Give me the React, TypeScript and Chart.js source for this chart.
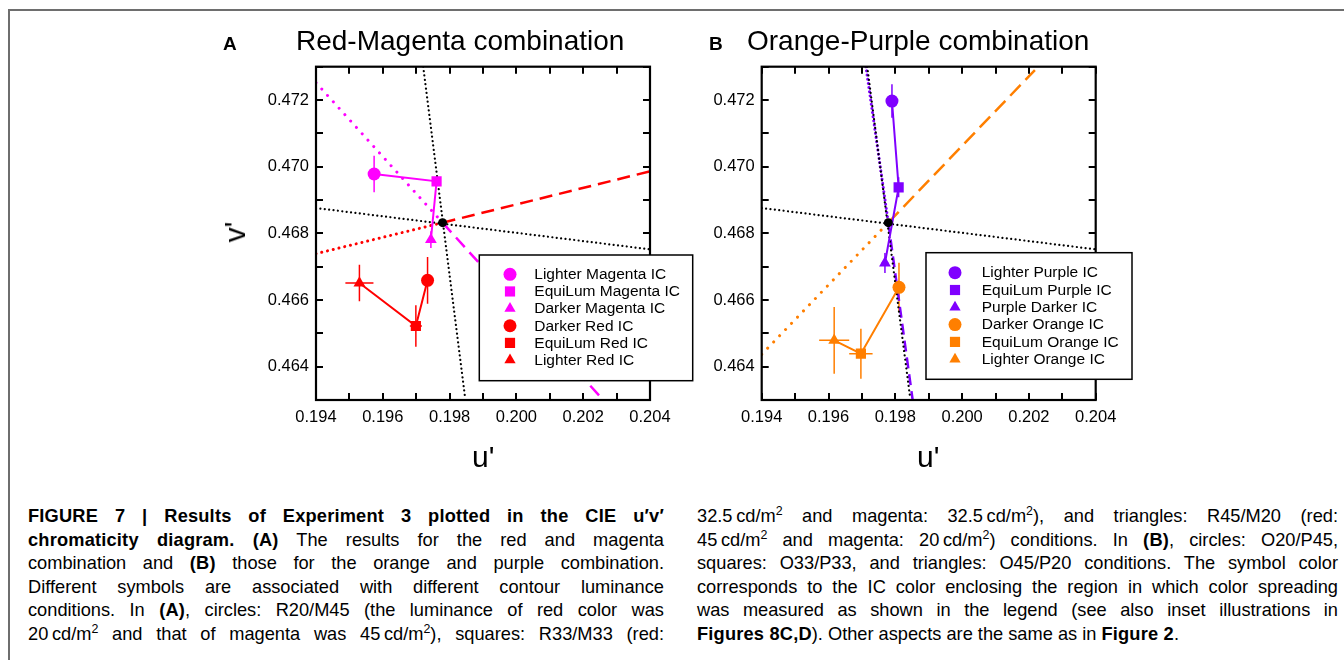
import React, { useEffect, useRef } from "react";
import { Chart, registerables } from "chart.js";
import { drawPoint } from "chart.js/helpers";

Chart.register(...registerables);

// ---------- axes ----------
const U_MIN = 0.194;
const U_MAX = 0.204;
const V_MIN = 0.463;
const V_MAX = 0.473;
const TICK_STEP = 0.001;

const pointStyles = ["circle", "rect", "triangle"];
const pointRadii = [6.5, 7.2, 6.8];

// ---------- white point (both panels) ----------
const whiteU = [0.19779];
const whiteV = [0.46832];

// ---------- panel A ----------
const magentaU = [0.19574, 0.19761, 0.19744];
const magentaV = [0.46978, 0.46956, 0.46781];
const magentaUErr = [0.0001, 0.0001, 0.0001];
const magentaVErr = [0.00055, 0.00015, 0.00025];

const redU = [0.19734, 0.19699, 0.1953];
const redV = [0.46659, 0.46522, 0.46651];
const redUErr = [0.0001, 0.00018, 0.00042];
const redVErr = [0.0007, 0.00062, 0.00055];

const aSteepU = [0.19721, 0.19846];
const aSteepV = [0.473, 0.4631];
const flatU = [0.194, 0.204];
const flatV = [0.46876, 0.46752];
const magentaDotU = [0.194, 0.19779];
const magentaDotV = [0.47252, 0.46832];
const magentaDashU = [0.19779, 0.2026];
const magentaDashV = [0.46832, 0.463];
const redDotU = [0.194, 0.19779];
const redDotV = [0.46739, 0.46832];
const redDashU = [0.19779, 0.204];
const redDashV = [0.46832, 0.46986];

const legendLabelsA = [
  "Lighter Magenta IC",
  "EquiLum Magenta IC",
  "Darker Magenta IC",
  "Darker Red IC",
  "EquiLum Red IC",
  "Lighter Red IC",
];

// ---------- panel B ----------
const purpleU = [0.1979, 0.1981, 0.19769];
const purpleV = [0.47197, 0.46938, 0.46711];
const purpleUErr = [0.0001, 0.0001, 0.0001];
const purpleVErr = [0.0005, 0.0003, 0.0003];

const orangeU = [0.19811, 0.19697, 0.19617];
const orangeV = [0.46638, 0.46439, 0.46479];
const orangeUErr = [0.0001, 0.00035, 0.00045];
const orangeVErr = [0.00074, 0.00075, 0.001];

const bSteepU = [0.19716, 0.19844];
const bSteepV = [0.473, 0.4631];
const purpleDotU = [0.19712, 0.19779];
const purpleDotV = [0.473, 0.46832];
const purpleDashU = [0.19779, 0.19852];
const purpleDashV = [0.46832, 0.463];
const orangeDotU = [0.194, 0.19779];
const orangeDotV = [0.46437, 0.46832];
const orangeDashU = [0.19779, 0.20218];
const orangeDashV = [0.46832, 0.4729];

const legendLabelsB = [
  "Lighter Purple IC",
  "EquiLum Purple IC",
  "Purple Darker IC",
  "Darker Orange IC",
  "EquiLum Orange IC",
  "Lighter Orange IC",
];

const MAGENTA = "#ff00ff";
const RED = "#ff0000";
const PURPLE = "#7f00ff";
const ORANGE = "#ff7f00";
const FONT = "'Liberation Sans', Arial, sans-serif";

const zip = (u: number[], v: number[]) => u.map((x, i) => ({ x, y: v[i] }));

const DOT_BLACK = { color: "#000", width: 2.2, dash: [0.01, 4.4], cap: "round" };

type Panel = {
  series: any[];
  lines: any[];
  legendLabels: string[];
  legendColors: string[];
  legend: { bx: number; by: number; bw: number; bh: number; sx: number; tx: number; ry: number; dy: number };
  canvas: { left: number; width: number };
  padding: { left: number; right: number; top: number; bottom: number };
};

const panelA: Panel = {
  series: [
    { color: MAGENTA, u: magentaU, v: magentaV, eu: magentaUErr, ev: magentaVErr },
    { color: RED, u: redU, v: redV, eu: redUErr, ev: redVErr },
  ],
  lines: [
    { u: aSteepU, v: aSteepV, ...DOT_BLACK },
    { u: flatU, v: flatV, ...DOT_BLACK },
    { u: magentaDotU, v: magentaDotV, color: MAGENTA, width: 3, dash: [0.01, 8.6], cap: "round" },
    { u: magentaDashU, v: magentaDashV, color: MAGENTA, width: 2.5, dash: [13, 7], cap: "butt" },
    { u: redDotU, v: redDotV, color: RED, width: 3, dash: [0.01, 5.9], cap: "round" },
    { u: redDashU, v: redDashV, color: RED, width: 2.5, dash: [13, 7], cap: "butt" },
  ],
  legendLabels: legendLabelsA,
  legendColors: [MAGENTA, MAGENTA, MAGENTA, RED, RED, RED],
  legend: { bx: 163.3, by: 188.3, bw: 213.4, bh: 125.7, sx: 194, tx: 218.3, ry: 207.6, dy: 17.15 },
  canvas: { left: 200, width: 510 },
  padding: { left: 56, right: 60, top: 66.7, bottom: 40 },
};

const panelB: Panel = {
  series: [
    { color: PURPLE, u: purpleU, v: purpleV, eu: purpleUErr, ev: purpleVErr },
    { color: ORANGE, u: orangeU, v: orangeV, eu: orangeUErr, ev: orangeVErr },
  ],
  lines: [
    { u: bSteepU, v: bSteepV, ...DOT_BLACK },
    { u: flatU, v: flatV, ...DOT_BLACK },
    { u: purpleDotU, v: purpleDotV, color: PURPLE, width: 3, dash: [0.01, 4.2], cap: "round" },
    { u: purpleDashU, v: purpleDashV, color: PURPLE, width: 2.5, dash: [11, 6], cap: "butt" },
    { u: orangeDotU, v: orangeDotV, color: ORANGE, width: 3, dash: [0.01, 8.6], cap: "round" },
    { u: orangeDashU, v: orangeDashV, color: ORANGE, width: 2.5, dash: [15, 7], cap: "butt" },
  ],
  legendLabels: legendLabelsB,
  legendColors: [PURPLE, PURPLE, PURPLE, ORANGE, ORANGE, ORANGE],
  legend: { bx: 164.3, by: 186, bw: 206, bh: 126.6, sx: 193.3, tx: 220, ry: 206, dy: 17.3 },
  canvas: { left: 700, width: 450 },
  padding: { left: 1.7, right: 54.3, top: 66.7, bottom: 40 },
};

const CANVAS_H = 480;

function tickLabel(value: number) {
  const k = Math.round(value * 1000);
  return k % 2 === 0 ? (k / 1000).toFixed(3) : "";
}

function makePlugin(panel: Panel) {
  return {
    id: "figureDecor",
    beforeDatasetsDraw(chart: any) {
      const { ctx, chartArea: ca } = chart;
      const xs = chart.scales.x;
      const ys = chart.scales.y;
      ctx.save();
      ctx.beginPath();
      ctx.rect(ca.left, ca.top, ca.right - ca.left, ca.bottom - ca.top);
      ctx.clip();
      chart.data.datasets.forEach((ds: any) => {
        if (!ds.errU) return;
        ctx.strokeStyle = ds.borderColor;
        ctx.lineWidth = 1.5;
        ds.data.forEach((p: any, i: number) => {
          const px = xs.getPixelForValue(p.x);
          const py = ys.getPixelForValue(p.y);
          ctx.beginPath();
          ctx.moveTo(xs.getPixelForValue(p.x - ds.errU[i]), py);
          ctx.lineTo(xs.getPixelForValue(p.x + ds.errU[i]), py);
          ctx.moveTo(px, ys.getPixelForValue(p.y - ds.errV[i]));
          ctx.lineTo(px, ys.getPixelForValue(p.y + ds.errV[i]));
          ctx.stroke();
        });
      });
      ctx.restore();
    },
    afterDraw(chart: any) {
      const { ctx, chartArea: ca } = chart;
      const xs = chart.scales.x;
      const ys = chart.scales.y;
      ctx.save();
      // inward ticks on all four sides
      ctx.strokeStyle = "#000";
      ctx.lineWidth = 2;
      const TL = 7;
      ctx.beginPath();
      xs.ticks.forEach((t: any) => {
        const x = Math.round(xs.getPixelForValue(t.value));
        ctx.moveTo(x, ca.bottom);
        ctx.lineTo(x, ca.bottom - TL);
        ctx.moveTo(x, ca.top);
        ctx.lineTo(x, ca.top + TL);
      });
      ys.ticks.forEach((t: any) => {
        const y = Math.round(ys.getPixelForValue(t.value));
        ctx.moveTo(ca.left, y);
        ctx.lineTo(ca.left + TL, y);
        ctx.moveTo(ca.right, y);
        ctx.lineTo(ca.right - TL, y);
      });
      ctx.stroke();
      // frame
      ctx.lineWidth = 2.2;
      ctx.strokeRect(ca.left, ca.top, ca.right - ca.left, ca.bottom - ca.top);

      // legend
      const L = panel.legend;
      ctx.fillStyle = "#fff";
      ctx.fillRect(ca.left + L.bx, ca.top + L.by, L.bw, L.bh);
      ctx.lineWidth = 1.5;
      ctx.strokeStyle = "#000";
      ctx.strokeRect(ca.left + L.bx, ca.top + L.by, L.bw, L.bh);
      ctx.font = `15.5px ${FONT}`;
      ctx.textBaseline = "middle";
      ctx.textAlign = "left";
      panel.legendLabels.forEach((label, i) => {
        const y = ca.top + L.ry + i * L.dy;
        const style = pointStyles[i % 3];
        ctx.fillStyle = panel.legendColors[i];
        drawPoint(ctx, { pointStyle: style, radius: style === "rect" ? 7.2 : 6.5, rotation: 0, borderWidth: 0 } as any, ca.left + L.sx, y);
        ctx.fillStyle = "#000";
        ctx.fillText(label, ca.left + L.tx, y + 0.5);
      });
      ctx.restore();
    },
  };
}

function buildConfig(panel: Panel): any {
  const datasets: any[] = [];
  datasets.push({
    data: zip(whiteU, whiteV),
    showLine: false,
    pointRadius: 4.5,
    pointBackgroundColor: "#000",
    pointBorderWidth: 0,
  });
  panel.series.forEach((s) => {
    datasets.push({
      data: zip(s.u, s.v),
      showLine: true,
      borderColor: s.color,
      borderWidth: 2,
      tension: 0,
      pointStyle: pointStyles,
      pointRadius: pointRadii,
      pointBackgroundColor: s.color,
      pointBorderColor: s.color,
      pointBorderWidth: 0,
      errU: s.eu,
      errV: s.ev,
    });
  });
  panel.lines.forEach((l) => {
    datasets.push({
      data: zip(l.u, l.v),
      showLine: true,
      borderColor: l.color,
      borderWidth: l.width,
      borderDash: l.dash,
      borderCapStyle: l.cap,
      pointRadius: 0,
      tension: 0,
    });
  });
  const tickFont = { family: FONT, size: 16.5 };
  return {
    type: "scatter",
    data: { datasets },
    options: {
      animation: false,
      responsive: false,
      maintainAspectRatio: false,
      events: [],
      layout: { padding: panel.padding },
      plugins: { legend: { display: false }, tooltip: { enabled: false }, title: { display: false } },
      scales: {
        x: {
          type: "linear",
          min: U_MIN,
          max: U_MAX,
          grid: { display: false, drawTicks: false },
          border: { display: false },
          ticks: {
            stepSize: TICK_STEP,
            autoSkip: false,
            maxRotation: 0,
            padding: 8,
            color: "#000",
            font: tickFont,
            callback: (v: number) => tickLabel(v),
          },
          afterFit: (s: any) => {
            s.height = 40;
          },
        },
        y: {
          type: "linear",
          min: V_MIN,
          max: V_MAX,
          grid: { display: false, drawTicks: false },
          border: { display: false },
          ticks: {
            stepSize: TICK_STEP,
            autoSkip: false,
            padding: 7,
            color: "#000",
            font: tickFont,
            callback: (v: number) => tickLabel(v),
          },
          afterFit: (s: any) => {
            s.width = 60;
          },
        },
      },
    },
    plugins: [makePlugin(panel)],
  };
}

function PanelCanvas({ panel }: { panel: Panel }) {
  const ref = useRef<HTMLCanvasElement>(null);
  useEffect(() => {
    if (!ref.current) return;
    const chart = new Chart(ref.current, buildConfig(panel));
    return () => chart.destroy();
  }, [panel]);
  return (
    <canvas
      ref={ref}
      width={panel.canvas.width}
      height={CANVAS_H}
      style={{ position: "absolute", left: panel.canvas.left, top: 0, width: panel.canvas.width, height: CANVAS_H }}
    />
  );
}

const txt = (left: number, top: number, size: number, content: string, extra: any = {}) => (
  <div
    style={{
      position: "absolute",
      left,
      top,
      fontSize: size,
      lineHeight: 1,
      fontFamily: FONT,
      color: "#000",
      whiteSpace: "nowrap",
      transform: "translateY(-50%)",
      ...extra,
    }}
  >
    {content}
  </div>
);

const CAP_SCALE = 0.985;
const sup = (s: string) => <sup style={{ fontSize: "0.68em", lineHeight: 0, verticalAlign: "0.55em" }}>{s}</sup>;
const B = ({ children }: any) => <b style={{ letterSpacing: "0.2px" }}>{children}</b>;
const T = "\u2009";

const leftLines = [
  <B>FIGURE 7 | Results of Experiment 3 plotted in the CIE u′v′</B>,
  <>
    <B>chromaticity diagram. (A)</B> The results for the red and magenta
  </>,
  <>
    combination and <B>(B)</B> those for the orange and purple combination.
  </>,
  <>Different symbols are associated with different contour luminance</>,
  <>
    conditions. In <B>(A)</B>, circles: R20/M45 (the luminance of red color was
  </>,
  <>
    20{T}cd/m{sup("2")} and that of magenta was 45{T}cd/m{sup("2")}), squares: R33/M33 (red:
  </>,
];

const rightLines = [
  <>
    32.5{T}cd/m{sup("2")} and magenta: 32.5{T}cd/m{sup("2")}), and triangles: R45/M20 (red:
  </>,
  <>
    45{T}cd/m{sup("2")} and magenta: 20{T}cd/m{sup("2")}) conditions. In <B>(B)</B>, circles: O20/P45,
  </>,
  <>squares: O33/P33, and triangles: O45/P20 conditions. The symbol color</>,
  <>corresponds to the IC color enclosing the region in which color spreading</>,
  <>was measured as shown in the legend (see also inset illustrations in</>,
  <>
    <B>Figures 8C,D</B>). Other aspects are the same as in <B>Figure 2</B>.
  </>,
];

function Caption({ left, width, lines, lastJustify }: any) {
  return (
    <div
      style={{
        position: "absolute",
        left,
        top: 504,
        width: width / CAP_SCALE,
        transform: `scaleX(${CAP_SCALE})`,
        transformOrigin: "left top",
        fontFamily: FONT,
        fontSize: 18.5,
        lineHeight: "23.6px",
        color: "#000",
      }}
    >
      {lines.map((l: any, i: number) => (
        <div
          key={i}
          style={{
            textAlign: "justify",
            textAlignLast: i === lines.length - 1 && !lastJustify ? "left" : "justify",
            height: 23.6,
            whiteSpace: "nowrap",
          }}
        >
          {l}
        </div>
      ))}
    </div>
  );
}

export default function App() {
  return (
    <div style={{ position: "absolute", left: 0, top: 0, width: 1344, height: 660, background: "#fff", overflow: "hidden" }}>
      <div
        style={{
          position: "absolute",
          left: 8,
          top: 9,
          width: 1340,
          height: 660,
          borderTop: "2px solid #6e6e6e",
          borderLeft: "2px solid #6e6e6e",
        }}
      />
      <PanelCanvas panel={panelA} />
      <PanelCanvas panel={panelB} />
      {txt(223, 43, 19, "A", { fontWeight: "bold" })}
      {txt(296, 41, 28, "Red-Magenta combination")}
      {txt(709, 43, 19, "B", { fontWeight: "bold" })}
      {txt(747, 41, 28, "Orange-Purple combination")}
      {txt(472, 457, 30, "u'")}
      {txt(917, 457, 30, "u'")}
      <div
        style={{
          position: "absolute",
          left: 235,
          top: 232,
          fontSize: 30,
          lineHeight: 1,
          fontFamily: FONT,
          whiteSpace: "nowrap",
          transform: "translate(-50%, -50%) rotate(-90deg)",
        }}
      >
        v'
      </div>
      <Caption left={28} width={636} lines={leftLines} lastJustify={true} />
      <Caption left={697} width={641} lines={rightLines} lastJustify={false} />
    </div>
  );
}
